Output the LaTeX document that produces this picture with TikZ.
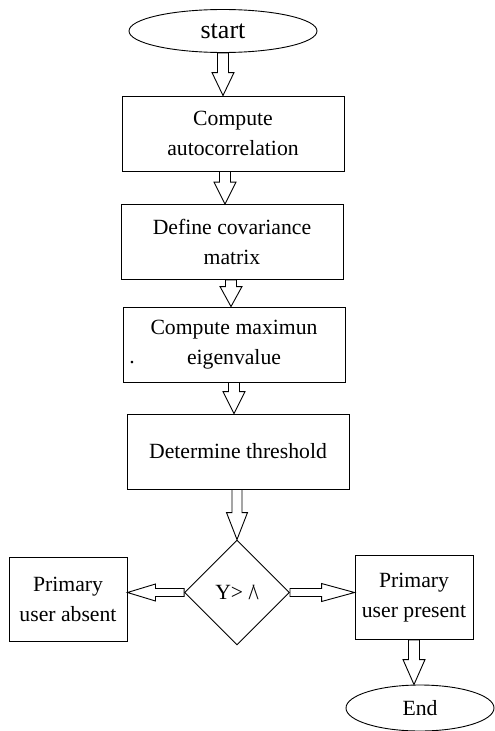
\documentclass[tikz,border=0pt]{standalone}
\usepackage{fontspec}
\setmainfont{Liberation Serif}
\usepackage{tikz}
\usetikzlibrary{shapes.geometric}
\usetikzlibrary{calc}

\newcommand{\flowfont}{\fontsize{21.7}{30}\selectfont}
\newcommand{\flowarrow}[5]{%
    \draw ($(#1)!#3!90:(#2)$) -- ($(#2)!#5!(#1)!#3!90:(#2)$) -- ($(#2)!#5!(#1)!#4!90:(#2)$)
        -- (#2) -- ($(#2)!#5!(#1)!#4!-90:(#2)$) -- ($(#2)!#5!(#1)!#3!-90:(#2)$)
        -- ($(#1)!#3!-90:(#2)$) -- cycle;}

\begin{document}
\begin{tikzpicture}[x=1pt,y=-1pt,line width=0.9pt,
        every node/.style={font=\flowfont,align=center,inner sep=0pt},
        term/.style={draw,ellipse},
        procbox/.style={draw,rectangle,minimum width=222pt,minimum height=75pt},
        sidebox/.style={draw,rectangle,minimum width=118pt,minimum height=84pt},
        decide/.style={draw,diamond,aspect=1,minimum width=105pt,minimum height=105pt}]
        \useasboundingbox (0,0) rectangle (495,731);
        \node[term,minimum width=188pt,minimum height=43pt,font=\fontsize{26}{30}\selectfont] (start) at (223,31) {start};
        \node[procbox] (auto) at (233,133.5) {Compute\\autocorrelation};
        \node[procbox] (cov) at (232,242) {Define covariance\\matrix};
        \node[procbox] (eig) at (234,344.5) {Compute maximun\\eigenvalue};
        \node[procbox] (thr) at (238,451.5) {Determine threshold};
        \node[decide] (test) at (237,592.5) {Y> /\kern-2pt\textbackslash};
        \node[sidebox] (absent) at (68,599.5) {Primary\\user absent};
        \node[sidebox] (present) at (414,597.5) {Primary\\user present};
        \node[term,minimum width=148pt,minimum height=46pt] (stop) at (420,708) {End};
        \node (dot) at (132,363) {.};
        \coordinate (c1) at (start.south |- auto.north);
        \coordinate (b2) at ([xshift=-8pt]auto.south);
        \coordinate (c2) at (b2 |- cov.north);
        \coordinate (b3) at ([xshift=-1pt]cov.south);
        \coordinate (c3) at (b3 |- eig.north);
        \coordinate (c4) at (eig.south |- thr.north);
        \coordinate (b5) at (thr.south -| test.north);
        \coordinate (c6) at (test.west -| absent.east);
        \coordinate (c7) at (test.east -| present.west);
        \coordinate (c8) at (present.south |- stop.north);
        \flowarrow{start.south}{c1}{5.5pt}{11pt}{23pt}
        \flowarrow{b2}{c2}{5.5pt}{11pt}{22pt}
        \flowarrow{b3}{c3}{5.5pt}{11pt}{20pt}
        \flowarrow{eig.south}{c4}{5.5pt}{11pt}{22pt}
        \flowarrow{b5}{test.north}{5pt}{10.5pt}{27pt}
        \flowarrow{test.west}{c6}{4pt}{8.5pt}{28pt}
        \flowarrow{test.east}{c7}{4pt}{9pt}{33pt}
        \flowarrow{present.south}{c8}{5.5pt}{11pt}{25pt}
\end{tikzpicture}
\end{document}
